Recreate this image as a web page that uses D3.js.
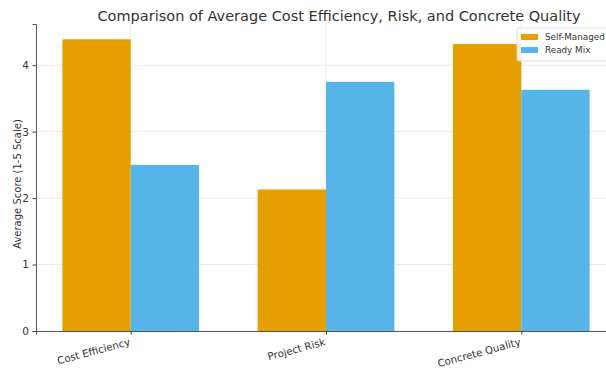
<!DOCTYPE html>
<html>
<head>
<meta charset="utf-8">
<script src="https://cdn.jsdelivr.net/npm/d3@7"></script>
<style>
  body { margin: 0; background: #fff; }
  text { font-family: "DejaVu Sans", sans-serif; fill: #333; }
</style>
</head>
<body>
<script>
'use strict';

const categories = ["Cost Efficiency", "Project Risk", "Concrete Quality"];
const seriesNames = ["Self-Managed", "Ready Mix"];
const selfManaged = [4.39, 2.13, 4.32];
const readyMix = [2.50, 3.75, 3.63];
const yTicks = [0, 1, 2, 3, 4];
const colors = { "Self-Managed": "#E69F00", "Ready Mix": "#56B4E9" };

const width = 606, height = 369;
const margin = { left: 36, right: -10, top: 24, bottom: 38 };

const svg = d3.select("body").append("svg")
    .attr("width", width)
    .attr("height", height);

// matplotlib style: integer positions, bar width 0.35, 5% margins
const x = d3.scaleLinear()
    .domain([-0.485, 2.485])
    .range([margin.left, width - margin.right]);

const y = d3.scaleLinear()
    .domain([0, 4.62])
    .range([height - margin.bottom, margin.top]);

const barW = 0.35;

// grid lines
svg.append("g")
    .selectAll("line")
    .data(yTicks)
    .enter()
    .append("line")
        .attr("x1", x.range()[0])
        .attr("x2", x.range()[1])
        .attr("y1", d => y(d))
        .attr("y2", d => y(d))
        .attr("stroke", "#e6e6e6")
        .attr("stroke-width", 0.8);

svg.append("g")
    .selectAll("line")
    .data(categories)
    .enter()
    .append("line")
        .attr("x1", (d, i) => x(i))
        .attr("x2", (d, i) => x(i))
        .attr("y1", y(0))
        .attr("y2", y.range()[1])
        .attr("stroke", "#e6e6e6")
        .attr("stroke-width", 0.8);

// bars
const series = [selfManaged, readyMix];
series.forEach(function(vals, s) {
    svg.append("g")
        .selectAll("rect")
        .data(vals)
        .enter()
        .append("rect")
            .attr("x", (d, i) => x(i - barW + s * barW))
            .attr("width", x(barW) - x(0))
            .attr("y", d => y(d))
            .attr("height", d => y(0) - y(d))
            .attr("fill", colors[seriesNames[s]]);
});

// y axis
const yAxis = svg.append("g")
    .attr("transform", "translate(" + margin.left + ",0)")
    .call(d3.axisLeft(y).tickValues(yTicks).tickFormat(d3.format("d")).tickSize(3.5).tickPadding(3.5));
yAxis.select(".domain").attr("stroke", "#444").attr("stroke-width", 0.9);
yAxis.selectAll(".tick line").attr("stroke", "#444");
yAxis.selectAll(".tick text").attr("font-size", "10.5px").attr("fill", "#333")
    .attr("font-family", "DejaVu Sans");

// x axis
const xAxis = svg.append("g")
    .attr("transform", "translate(0," + y(0) + ")")
    .call(d3.axisBottom(x).tickValues([0, 1, 2]).tickSize(3.5).tickFormat(""));
xAxis.select(".domain").attr("stroke", "#444").attr("stroke-width", 0.9);
xAxis.selectAll(".tick line").attr("stroke", "#444");

// rotated category labels
svg.append("g")
    .selectAll("text")
    .data(categories)
    .enter()
    .append("text")
        .attr("transform", (d, i) => "translate(" + x(i) + "," + (y(0) + 14) + ") rotate(-15)")
        .attr("text-anchor", "end")
        .attr("font-size", "10.2px")
        .text(d => d);

// title
svg.append("text")
    .attr("x", 339)
    .attr("y", 21)
    .attr("text-anchor", "middle")
    .attr("font-size", "14.5px")
    .text("Comparison of Average Cost Efficiency, Risk, and Concrete Quality");

// y label
svg.append("text")
    .attr("transform", "translate(21,184) rotate(-90)")
    .attr("text-anchor", "middle")
    .attr("font-size", "10px")
    .text("Average Score (1-5 Scale)");

// legend
const legend = svg.append("g").attr("transform", "translate(517,28)");
legend.append("rect")
    .attr("width", 100)
    .attr("height", 33)
    .attr("rx", 2)
    .attr("fill", "#fff")
    .attr("fill-opacity", 0.8)
    .attr("stroke", "#ddd");
legend.selectAll("g.item")
    .data(seriesNames)
    .enter()
    .append("g")
        .attr("transform", (d, i) => "translate(4," + (5 + i * 13) + ")")
        .each(function(d) {
            d3.select(this).append("rect")
                .attr("width", 17)
                .attr("height", 6)
                .attr("y", 1)
                .attr("fill", colors[d]);
            d3.select(this).append("text")
                .attr("x", 24)
                .attr("y", 4)
                .attr("dy", "0.35em")
                .attr("font-size", "8.8px")
                .text(d);
        });
</script>
</body>
</html>
